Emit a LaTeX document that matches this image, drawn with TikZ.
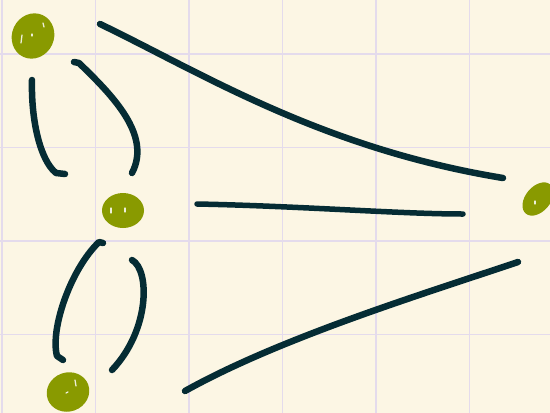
\documentclass[tikz,border=0pt]{standalone}
\usetikzlibrary{shapes.geometric}
\definecolor{paper}{RGB}{252,246,228}
\definecolor{gridc}{RGB}{228,219,236}
\definecolor{dotc}{RGB}{137,154,0}
\definecolor{inkc}{RGB}{5,44,52}
\tikzset{
  dotnode/.style={ellipse, fill=dotc, draw=none, inner sep=0pt},
  ink/.style={draw=inkc, line width=6.5pt, line cap=round, line join=round},
  gloss/.style={draw=white, line width=1.3pt, line cap=round, opacity=0.85},
}
\begin{document}
\begin{tikzpicture}[x=1pt,y=-1pt]
\fill[paper] (0,0) rectangle (550,413);
\useasboundingbox (0,0) rectangle (550,413);
% grid
\foreach \gx in {2,95.5,189,282.5,376,469.5}
  \draw[gridc, line width=1.4pt] (\gx,0) -- (\gx,413);
\foreach \gy in {54,147.5,241,334.5}
  \draw[gridc, line width=1.4pt] (0,\gy) -- (550,\gy);
% dots
\node[dotnode, minimum width=42pt, minimum height=46pt, rotate=-25] (a) at (33,36) {};
\node[dotnode, minimum width=42pt, minimum height=35pt] (b) at (123,210.5) {};
\node[dotnode, minimum width=43pt, minimum height=39pt, rotate=20] (c) at (68,392) {};
\node[dotnode, minimum width=38pt, minimum height=25pt, rotate=50] (d) at (538,199) {};
% highlights
\draw[gloss] (22,35) -- (21,43);
\draw[gloss] (32,34) -- (32,36);
\draw[gloss] (43,23) -- (44,27);
\draw[gloss] (111,208) -- (111,213);
\draw[gloss] (125,208) -- (125,212);
\draw[gloss] (66,393) -- (68,392);
\draw[gloss] (75,380) -- (76,386);
\draw[gloss] (535,201) -- (535,204);
% coordinates for stroke ends
\coordinate (ab1s) at (32,80);   \coordinate (ab1e) at (65,174);
\coordinate (ab2s) at (74,62);   \coordinate (ab2e) at (132,173);
\coordinate (ads) at (100,24);   \coordinate (ade) at (503,178);
\coordinate (bds) at (197,204);  \coordinate (bde) at (463,214);
\coordinate (cds) at (185,391);  \coordinate (cde) at (518,262);
\coordinate (bc1s) at (103,243); \coordinate (bc1e) at (63,360);
\coordinate (bc2s) at (132,260); \coordinate (bc2e) at (112,370);
% strokes
\draw[ink] (ab1s) .. controls (31,120) and (40,160) .. (56,173) -- (ab1e);
\draw[ink] (ab2s) -- (79,63) .. controls (112,95) and (152,135) .. (ab2e);
\draw[ink] (ads) .. controls (200,72) and (320,148) .. (ade);
\draw[ink, line width=5.5pt] (bds) .. controls (300,206) and (400,214) .. (bde);
\draw[ink] (cds) .. controls (280,338) and (420,295) .. (cde);
\draw[ink] (bc1s) -- (99,242) .. controls (70,270) and (50,330) .. (57,356) -- (bc1e);
\draw[ink] (bc2s) .. controls (150,270) and (150,330) .. (bc2e);
\end{tikzpicture}
\end{document}
